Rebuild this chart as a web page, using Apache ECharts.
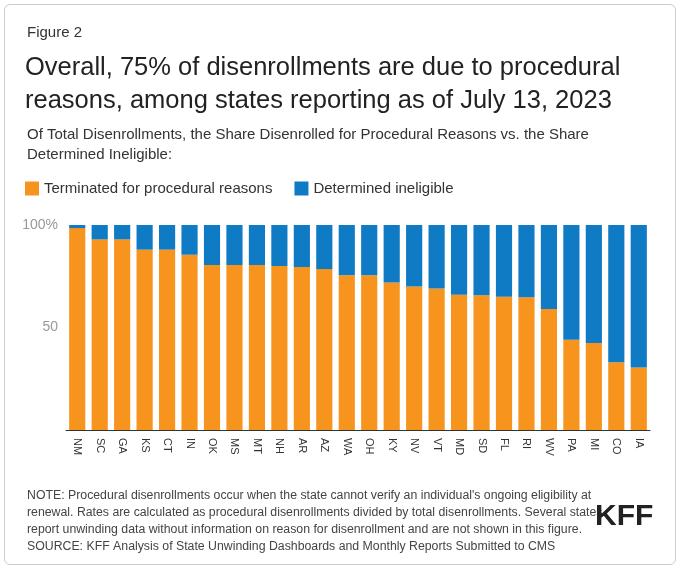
<!DOCTYPE html>
<html><head><meta charset="utf-8">
<script src="https://cdn.jsdelivr.net/npm/echarts@6/dist/echarts.min.js"></script>
<style>
body{margin:0;background:#fff;font-family:Arial,"Liberation Sans",sans-serif;}
#wrap{position:absolute;left:4px;top:4px;width:670px;height:559px;border:1px solid #ccc;border-radius:6px;}
#chart{position:absolute;left:0;top:0;width:680px;height:569px;}
</style></head>
<body><div id="wrap"></div><div id="chart"></div>
<script>
var states = ['NM','SC','GA','KS','CT','IN','OK','MS','MT','NH','AR','AZ','WA','OH','KY','NV','VT','MD','SD','FL','RI','WV','PA','MI','CO','IA'];
var procedural = [98.5,93,93,88,88,85.5,80.5,80.5,80.5,80,79.5,78.5,75.5,75.5,72,70,69,66,65.7,65,64.7,59,44,42.5,33,30.5];
var ineligible = procedural.map(function(v){ return +(100 - v).toFixed(1); });
var yTicks = [0, 50, 100];

var chart = echarts.init(document.getElementById('chart'));
var txt = '#333';
chart.setOption({
  animation: false,
  title: [
    {text: 'Figure 2', left: 22, top: 20, textStyle: {fontSize: 15, fontWeight: 'normal', color: txt}},
    {text: 'Overall, 75% of disenrollments are due to procedural\nreasons, among states reporting as of July 13, 2023', left: 20, top: 46,
      textStyle: {fontSize: 25.5, fontWeight: 'normal', color: '#222', lineHeight: 33}},
    {text: 'Of Total Disenrollments, the Share Disenrolled for Procedural Reasons vs. the Share\nDetermined Ineligible:', left: 22, top: 120,
      textStyle: {fontSize: 15, fontWeight: 'normal', color: txt, lineHeight: 20}},
    {text: "NOTE: Procedural disenrollments occur when the state cannot verify an individual's ongoing eligibility at\nrenewal. Rates are calculated as procedural disenrollments divided by total disenrollments. Several states\nreport unwinding data without information on reason for disenrollment and are not shown in this figure.\nSOURCE: KFF Analysis of State Unwinding Dashboards and Monthly Reports Submitted to CMS",
      left: 22, top: 482, textStyle: {fontSize: 12.3, fontWeight: 'normal', color: '#444', lineHeight: 17}},
    {text: 'KFF', left: 590, top: 497, textStyle: {fontSize: 30, fontWeight: 'bold', color: '#222'}}
  ],
  legend: {
    left: 20, top: 176, itemWidth: 14, itemHeight: 14, itemGap: 22, icon: 'rect',
    textStyle: {fontSize: 15, color: txt},
    data: ['Terminated for procedural reasons', 'Determined ineligible']
  },
  grid: {left: 66, right: 30, top: 225, bottom: 139},
  xAxis: {
    type: 'category', data: states,
    axisTick: {show: false},
    axisLine: {lineStyle: {color: '#333'}},
    axisLabel: {rotate: -90, color: txt, fontSize: 11, interval: 0, margin: 8}
  },
  yAxis: {
    type: 'value', min: yTicks[0], max: yTicks[2], interval: 50,
    splitLine: {show: false}, axisLine: {show: false}, axisTick: {show: false},
    axisLabel: {color: '#999', fontSize: 14, formatter: function(v){ return v === 100 ? '100%' : (v === 0 ? '' : v); }}
  },
  series: [
    {name: 'Terminated for procedural reasons', type: 'bar', stack: 's', data: procedural, barWidth: '72%',
      itemStyle: {color: '#f7941d'}},
    {name: 'Determined ineligible', type: 'bar', stack: 's', data: ineligible,
      itemStyle: {color: '#0f7bc4'}}
  ]
});
</script></body></html>
